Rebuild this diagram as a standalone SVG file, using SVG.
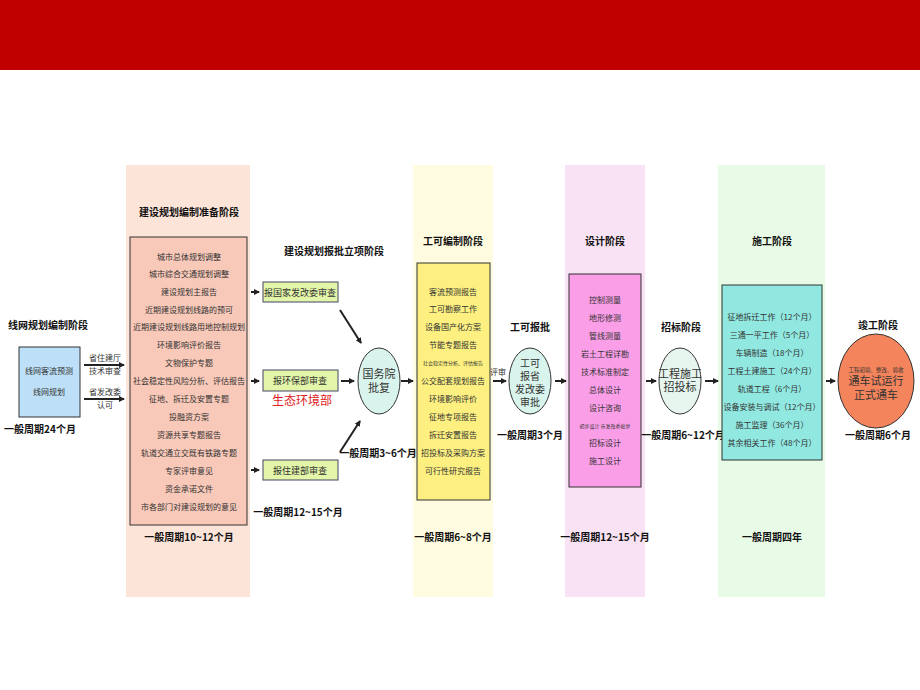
<svg xmlns="http://www.w3.org/2000/svg" width="920" height="690" viewBox="0 0 920 690">
<defs>
<marker id="ah" markerWidth="6" markerHeight="6" refX="5" refY="3" orient="auto" markerUnits="userSpaceOnUse"><path d="M0,0 L6,3 L0,6 z" fill="#222"/></marker>
<style>
text{font-family:"Noto Sans CJK SC","Noto Sans",sans-serif;fill:#333}
.s{font-size:8px;text-anchor:middle}
.h{font-size:10px;font-weight:bold;fill:#111;text-anchor:middle}
.p{font-size:10px;font-weight:bold;fill:#111;text-anchor:middle}
.e{font-size:11px;text-anchor:middle;fill:#333}
.g{font-size:9px;text-anchor:middle;fill:#333}
.c line{stroke:#222;stroke-width:2;marker-end:url(#ah)}
</style>
</defs>
<rect width="920" height="690" fill="#fff"/>
<rect width="920" height="70" fill="#c00000"/>
<rect x="126" y="165" width="124" height="432" fill="#fde4d8"/>
<rect x="413" y="165" width="80" height="432" fill="#fffbe0"/>
<rect x="565" y="165" width="80" height="432" fill="#f8e2f4"/>
<rect x="718" y="165" width="107" height="432" fill="#e8fbe6"/>

<text class="h" x="48" y="329">线网规划编制阶段</text>
<text class="h" x="189" y="216">建设规划编制准备阶段</text>
<text class="h" x="334" y="255">建设规划报批立项阶段</text>
<text class="h" x="453" y="245">工可编制阶段</text>
<text class="h" x="530" y="331">工可报批</text>
<text class="h" x="605" y="245">设计阶段</text>
<text class="h" x="681" y="331">招标阶段</text>
<text class="h" x="772" y="245">施工阶段</text>
<text class="h" x="878" y="329">竣工阶段</text>

<g id="n_xw"><rect x="19" y="347" width="61" height="70" fill="#bde0f8" stroke="#333"/>
<text class="s" x="49" y="374">线网客流预测</text><text class="s" x="49" y="395">线网规划</text></g>
<text class="p" x="40" y="433">一般周期24个月</text>
<text class="s" x="105" y="361">省住建厅</text><text class="s" x="105" y="374">技术审查</text>
<text class="s" x="105" y="395">省发改委</text><text class="s" x="105" y="408">认可</text>

<g id="n_prep"><rect x="130" y="237" width="117" height="288" fill="#f8c8b8" stroke="#333"/>
<g class="s"><text x="189" y="260">城市总体规划调整</text><text x="189" y="277">城市综合交通规划调整</text><text x="189" y="295">建设规划主报告</text><text x="189" y="313">近期建设规划线路的预可</text><text x="189" y="330">近期建设规划线路用地控制规划</text><text x="189" y="348">环境影响评价报告</text><text x="189" y="366">文物保护专题</text><text x="189" y="384">社会稳定性风险分析、评估报告</text><text x="189" y="402">征地、拆迁及安置专题</text><text x="189" y="420">投融资方案</text><text x="189" y="438">资源共享专题报告</text><text x="189" y="456">轨道交通立交既有铁路专题</text><text x="189" y="474">专家评审意见</text><text x="189" y="492">资金承诺文件</text><text x="189" y="510">市各部门对建设规划的意见</text></g></g>
<text class="p" x="189" y="541">一般周期10~12个月</text>

<g id="n_gjfg"><rect x="263" y="282" width="75" height="20" fill="#e2f5a8" stroke="#446"/><text class="g" x="300" y="295.5">报国家发改委审查</text></g>
<g id="n_hb"><rect x="263" y="370" width="75" height="21" fill="#e2f5a8" stroke="#446"/><text class="g" x="300" y="384">报环保部审查</text></g>
<text x="302" y="405" font-size="12" text-anchor="middle" style="fill:#e02020">生态环境部</text>
<g id="n_zj"><rect x="263" y="460" width="75" height="20" fill="#e2f5a8" stroke="#446"/><text class="g" x="300" y="473.5">报住建部审查</text></g>
<text class="p" x="298" y="516">一般周期12~15个月</text>

<g id="n_gwy"><ellipse cx="379" cy="381" rx="21" ry="33" fill="#d8f4ec" stroke="#333"/><text class="e" x="379" y="378">国务院</text><text class="e" x="379" y="392">批复</text></g>
<text class="p" x="378" y="457">一般周期3~6个月</text>

<g id="n_gk"><rect x="417" y="263" width="73" height="237" fill="#fdf080" stroke="#333"/>
<g class="s"><text x="453" y="295">客流预测报告</text><text x="453" y="312">工可勘察工作</text><text x="453" y="330">设备国产化方案</text><text x="453" y="348">节能专题报告</text><text x="453" y="365" font-size="5">社会稳定性分析、评估报告</text><text x="453" y="384">公交配套规划报告</text><text x="453" y="402">环境影响评价</text><text x="453" y="420">征地专项报告</text><text x="453" y="438">拆迁安置报告</text><text x="453" y="456">招投标及采购方案</text><text x="453" y="474">可行性研究报告</text></g></g>
<text class="p" x="453" y="541">一般周期6~8个月</text>
<text class="s" x="498" y="375" font-size="7">评审</text>

<g id="n_gkpp"><ellipse cx="530" cy="381" rx="21" ry="33" fill="#d8f4ec" stroke="#333"/><g style="font-size:10px"><text class="e" x="530" y="367" style="font-size:10px">工可</text><text class="e" x="530" y="380" style="font-size:10px">报省</text><text class="e" x="530" y="393" style="font-size:10px">发改委</text><text class="e" x="530" y="406" style="font-size:10px">审批</text></g></g>
<text class="p" x="530" y="439">一般周期3个月</text>

<g id="n_sj"><rect x="569" y="274" width="72" height="213" fill="#fa9ee8" stroke="#333"/>
<g class="s"><text x="605" y="303">控制测量</text><text x="605" y="321">地形修测</text><text x="605" y="339">管线测量</text><text x="605" y="357">岩土工程详勘</text><text x="605" y="375">技术标准制定</text><text x="605" y="393">总体设计</text><text x="605" y="411">设计咨询</text><text x="605" y="428" font-size="5">初步设计 市发改委批复</text><text x="605" y="446">招标设计</text><text x="605" y="464">施工设计</text></g></g>
<text class="p" x="605" y="541">一般周期12~15个月</text>

<g id="n_zb"><ellipse cx="680" cy="381" rx="21" ry="33" fill="#e6f6ee" stroke="#333"/><text class="e" x="680" y="378">工程施工</text><text class="e" x="680" y="391">招投标</text></g>
<text class="p" x="683" y="439">一般周期6~12个月</text>

<g id="n_sg"><rect x="722" y="285" width="100" height="175" fill="#90e8e0" stroke="#333"/>
<g class="s"><text x="772" y="320">征地拆迁工作（12个月）</text><text x="772" y="338">三通一平工作（5个月）</text><text x="772" y="356">车辆制造（18个月）</text><text x="772" y="374">工程土建施工（24个月）</text><text x="772" y="392">轨道工程（6个月）</text><text x="772" y="410">设备安装与调试（12个月）</text><text x="772" y="428">施工监理（36个月）</text><text x="772" y="446">其余相关工作（48个月）</text></g></g>
<text class="p" x="772" y="541">一般周期四年</text>

<g id="n_jg"><ellipse cx="876" cy="381" rx="38" ry="47" fill="#f4845c" stroke="#333"/><text class="s" x="876" y="372" style="font-size:5.5px">工程初验、整改、验收</text><text class="e" x="876" y="385">通车试运行</text><text class="e" x="876" y="399">正式通车</text></g>
<text class="p" x="878" y="439">一般周期6个月</text>

<g class="c">
<line x1="84" y1="365" x2="124" y2="365"/><line x1="84" y1="399" x2="124" y2="399"/>
<line x1="251" y1="292" x2="259" y2="292"/><line x1="251" y1="381" x2="259" y2="381"/><line x1="251" y1="470" x2="259" y2="470"/>
<line x1="340" y1="310" x2="361" y2="343"/><line x1="341" y1="381" x2="354" y2="381"/><line x1="340" y1="452" x2="360" y2="421"/>
<line x1="401" y1="381" x2="413" y2="381"/><line x1="493" y1="381" x2="506" y2="381"/>
<line x1="555" y1="381" x2="566" y2="381"/><line x1="646" y1="381" x2="656" y2="381"/>
<line x1="705" y1="381" x2="718" y2="381"/><line x1="826" y1="381" x2="835" y2="381"/>
</g>
</svg>
